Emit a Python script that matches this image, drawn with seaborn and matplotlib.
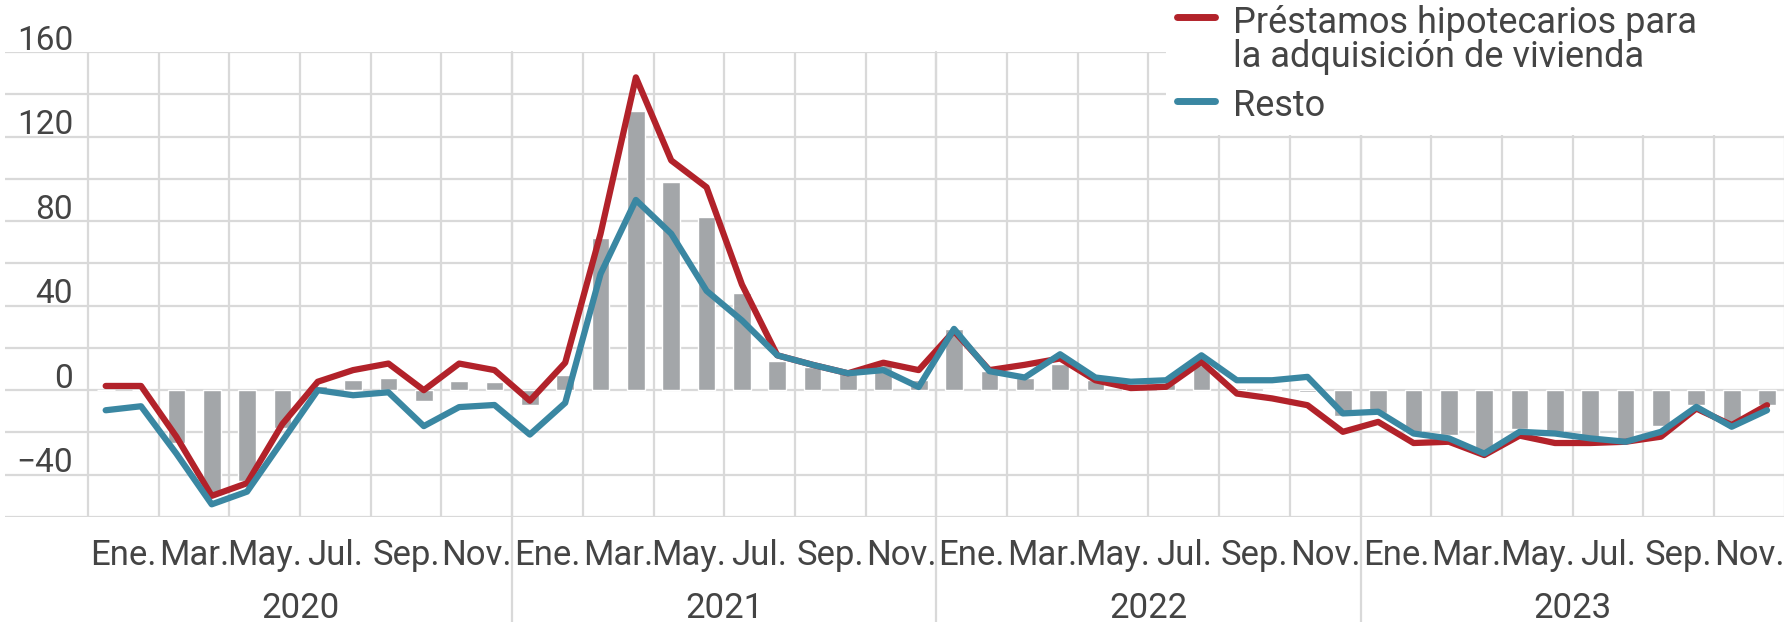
import numpy as np
import pandas as pd
import seaborn as sns
import matplotlib.pyplot as plt
import matplotlib.transforms as mtransforms
from matplotlib.lines import Line2D

# meses ene-2020 .. dic-2023 (indice 0..47)
meses = np.arange(48)
mes_labels = ["Ene.", "Mar.", "May.", "Jul.", "Sep.", "Nov."] * 4
anios = ["2020", "2021", "2022", "2023"]

# tasa de variacion interanual (%)
vivienda = [2, 2, -22, -50, -44, -16, 4, 9.5, 12.6, 0, 12.6, 9.5,
            -5, 13, 74, 148, 108.7, 96, 50, 16.5, 12, 8, 13, 9.5,
            28, 9.5, 12, 15, 4.7, 1, 1.6, 13.4, -1.6, -3.9, -7.1, -19.7,
            -15, -25, -24.4, -30.7, -21.5, -25, -25, -24.4, -22, -8.7, -16.5, -7.1]
resto = [-9.5, -7.6, -30, -54, -48, -24, 0, -2.4, -1, -17, -8, -7,
         -21, -6, 55, 90, 74, 47, 33, 16.5, 12, 8, 9.5, 1.5,
         29, 9, 6, 17, 6, 4, 4.7, 16.5, 4.7, 4.7, 6.3, -11,
         -10.2, -20.5, -22.8, -30, -19.7, -20.5, -22.8, -24.4, -19.7, -7.9, -17.3, -9.5]
total = [0, 0, -25, -50, -43, -18, 2, 5, 6, -5, 4.5, 4,
         -7, 7, 72, 132, 98.5, 82, 46, 14, 11, 8, 12, 5,
         29, 9, 6, 12.6, 5, 2, 3, 12, 1, 0.5, -1, -12,
         -11, -20, -21, -29, -18.5, -20, -23, -23, -17, -7, -15.7, -7]

ROJO = "#b2222a"
AZUL = "#3a87a2"
GRIS = "#a3a6a9"
REJILLA = "#d9d9d9"
TEXTO = "#444444"

df = pd.DataFrame({"mes": meses, "vivienda": vivienda, "resto": resto, "total": total})

sns.set_theme(style="white")
plt.rcParams["font.family"] = ["Roboto", "DejaVu Sans"]

fig = plt.figure(figsize=(17.84, 6.22), dpi=100)
ax = fig.add_axes([5 / 1784, 105 / 622, 1779 / 1784, 465 / 622])

# rejilla vertical cada dos meses, separadores de año mas largos
ax.vlines(np.arange(-0.5, 48, 2), -60, 160, color=REJILLA, lw=1.6, zorder=0)
for b in [11.5, 23.5, 35.5]:
    ax.axvline(b, ymin=-0.226, ymax=1, color=REJILLA, lw=1.6, clip_on=False, zorder=0)

sns.barplot(data=df, x="mes", y="total", native_scale=True, width=0.5,
            color=GRIS, saturation=1, errorbar=None, ax=ax, zorder=2)
sns.lineplot(data=df, x="mes", y="vivienda", color=ROJO, lw=4.5, ax=ax, zorder=3)
sns.lineplot(data=df, x="mes", y="resto", color=AZUL, lw=4.5, ax=ax, zorder=4)

ax.set_xlim(-2.848, 47.48)
ax.set_ylim(-60, 160)
ax.set_xlabel("")
ax.set_ylabel("")
for s in ax.spines.values():
    s.set_visible(False)

ax.set_yticks([-40, 0, 40, 80, 120, 160])
ax.set_yticks([-60, -20, 20, 60, 100, 140], minor=True)
ax.grid(axis="y", which="both", color=REJILLA, lw=1.6, zorder=0)
ax.grid(axis="x", visible=False)
ax.set_axisbelow(True)

ax.set_xticks(np.arange(0.5, 48, 2), mes_labels)
ax.set_xticks([5.5, 17.5, 29.5, 41.5], anios, minor=True)
ax.tick_params(axis="x", which="major", length=0, pad=16, labelsize=25, labelcolor=TEXTO)
ax.tick_params(axis="x", which="minor", length=0, pad=54, labelsize=25, labelcolor=TEXTO)
ax.tick_params(axis="y", which="both", length=0, pad=-49, labelsize=24, labelcolor=TEXTO)

desplaza = mtransforms.ScaledTranslation(0, 0.15, fig.dpi_scale_trans)
for lab in ax.get_yticklabels():
    lab.set_transform(lab.get_transform() + desplaza)

handles = [Line2D([0], [0], color=ROJO, lw=5), Line2D([0], [0], color=AZUL, lw=5)]
leg = fig.legend(handles,
                 ["Préstamos hipotecarios para\nla adquisición de vivienda", "Resto"],
                 loc="upper left", bbox_to_anchor=(1166 / 1784, 0, 618 / 1784, 1 + 6 / 622),
                 mode="expand", fontsize=26, frameon=True, fancybox=False,
                 facecolor="white", edgecolor="none", framealpha=1,
                 borderpad=0.3, borderaxespad=0, handlelength=1.05,
                 handletextpad=0.5, labelspacing=0.35)
for t in leg.get_texts():
    t.set_color(TEXTO)
    t.set_linespacing(0.95)
for hp in leg._legend_handle_box.get_children()[0].get_children():
    hp.align = "top"

fig.savefig("out.png", dpi=100)
